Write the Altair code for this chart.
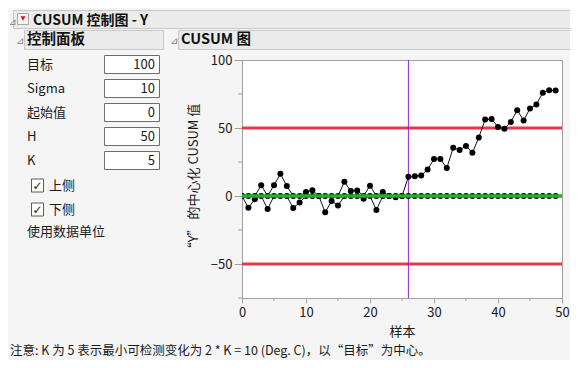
import altair as alt
import pandas as pd

# ---------------- data ----------------
samples = list(range(0, 50))
upper = [0, 0, 0, 7.9, 0, 7.9, 16.3, 7.4, 0, 0,
         3.0, 4.2, 0, 0, 0, 0, 10.5, 3.6, 4.0, 0,
         7.6, 0, 3.0, 0, 0, 0, 14.1, 14.6, 15.1, 19.5,
         27.2, 27.2, 20.5, 35.5, 33.8, 36.8, 31.8, 43.0, 56.3, 56.6,
         50.7, 49.5, 54.5, 63.1, 55.6, 64.3, 67.3, 76.0, 77.7, 77.6]
lower = [0, -8.7, -2.4, 0, -9.6, 0, 0, 0, -8.9, -4.7,
         0, 0, 0, -12.0, -3.7, -7.0, 0, 0, 0, -2.0,
         0, -10.3, 0, 0, -1.0, 0, 0, 0, 0, 0,
         0, 0, 0, 0, 0, 0, 0, 0, 0, 0,
         0, 0, 0, 0, 0, 0, 0, 0, 0, 0]
h_limits = [50, -50]
center_line = [0]
shift_marker = [26]

x_major = [0, 10, 20, 30, 40, 50]
x_minor = [5, 15, 25, 35, 45]
y_major = [-50, 0, 50, 100]
y_minor = [-75, -25, 25, 75]

param_labels = ["目标", "Sigma", "起始值", "H", "K"]
param_values = ["100", "10", "0", "50", "5"]
check_labels = ["上侧", "下侧"]

title_main = "CUSUM 控制图 - Y"
panel_title = "控制面板"
chart_title = "CUSUM 图"
data_units = "使用数据单位"
y_title = "“Y” 的中心化 CUSUM 值"
x_title = "样本"
note = "注意: K 为 5 表示最小可检测变化为 2 * K = 10 (Deg. C)，以“目标”为中心。"

# ---------------- layout helpers ----------------
FONT = "Noto Sans CJK SC"
OX, OY = 242, 60  # page position of the plot origin
W, H = 320, 238
PAGE_R = 570
PAGE_B = 360


def txt(s, x, y, size=13, weight="normal", align="left", color="#1a1a1a", font=FONT):
    return alt.Chart(pd.DataFrame({"t": [s]})).mark_text(
        align=align, baseline="middle", fontSize=size, fontWeight=weight,
        color=color, font=font
    ).encode(x=alt.value(x - OX), y=alt.value(y - OY), text="t:N")


def box(x1, y1, x2, y2, fill, stroke, sw=1):
    return alt.Chart(pd.DataFrame({"a": [0]})).mark_rect(
        fill=fill, stroke=stroke, strokeWidth=sw
    ).encode(x=alt.value(x1 - OX), x2=alt.value(x2 - OX),
             y=alt.value(y1 - OY), y2=alt.value(y2 - OY))


layers = []
# outline headers
layers.append(box(13.5, 10.5, PAGE_R + 5, 28.5, "#EBEBEB", "#C8C8C8"))
layers.append(txt("⊿", 8.5, 21.5, size=9.5, color="#808080", font="DejaVu Sans"))
layers.append(box(17.5, 13.5, 28.5, 24.5, "#F4F4F4", "#A8A8A8"))
layers.append(alt.Chart(pd.DataFrame({"a": [0]})).mark_point(
    shape="triangle-down", filled=True, color="#D7102A", size=26, opacity=1
).encode(x=alt.value(23 - OX), y=alt.value(18.5 - OY)))
layers.append(txt(title_main, 33, 20.5, size=14, weight="bold", color="#111111"))

layers.append(box(24.5, 30.5, 163.5, 49.5, "#EBEBEB", "#C8C8C8"))
layers.append(txt("⊿", 16, 41, size=10, color="#808080", font="DejaVu Sans"))
layers.append(txt(panel_title, 27, 40, size=14.5, weight="bold", color="#111111"))

layers.append(box(178.5, 30.5, PAGE_R + 5, 49.5, "#EBEBEB", "#C8C8C8"))
layers.append(txt("⊿", 170, 41, size=10, color="#808080", font="DejaVu Sans"))
layers.append(txt(chart_title, 181, 40, size=14.5, weight="bold", color="#111111"))

# control panel
for i, (lab, val) in enumerate(zip(param_labels, param_values)):
    yc = 64.5 + 24 * i
    layers.append(txt(lab, 27, yc, size=13))
    layers.append(box(104.5, 55.5 + 24 * i, 159.5, 73.5 + 24 * i, "white", "#6E6E6E"))
    layers.append(txt(val, 155, yc + 0.5, size=13, align="right"))

for j, lab in enumerate(check_labels):
    yc = 185.5 + 24 * j
    layers.append(box(31.5, yc - 6.5, 43.5, yc + 6.5, "white", "#5A5A5A"))
    layers.append(txt("✓", 37.5, yc, size=12, align="center", color="#222222", font="DejaVu Sans"))
    layers.append(txt(lab, 49, yc, size=13))

layers.append(txt(data_units, 27, 232, size=13))
layers.append(txt(note, 10, 350.5, size=12.5))

# ---------------- plot ----------------
xscale = alt.Scale(domain=[0, 50], nice=False, zero=False)
yscale = alt.Scale(domain=[-75, 100], nice=False, zero=False)

df = pd.DataFrame({
    "sample": samples + samples,
    "value": upper + lower,
    "side": ["upper"] * len(samples) + ["lower"] * len(samples),
})

x_axis = alt.Axis(
    values=x_major, tickSize=5, grid=False, labelFlush=False,
    domainColor="#A0A0A0", tickColor="#A0A0A0",
    labelFont=FONT, labelFontSize=13, labelColor="#1a1a1a", labelPadding=3,
    title=x_title, titleFont=FONT, titleFontSize=13, titleFontWeight="normal",
    titleColor="#1a1a1a", titlePadding=6,
)
y_axis = alt.Axis(
    values=y_major, tickSize=8, grid=False, labelFlush=False,
    domainColor="#A0A0A0", tickColor="#A0A0A0",
    labelFont=FONT, labelFontSize=13, labelColor="#1a1a1a", labelPadding=2,
    title=y_title, titleFont=FONT, titleFontSize=13, titleFontWeight="normal",
    titleColor="#1a1a1a", titlePadding=10,
)

X = lambda f: alt.X(f, scale=xscale, axis=x_axis)
Y = lambda f: alt.Y(f, scale=yscale, axis=y_axis)

xminor = alt.Chart(pd.DataFrame({"v": x_minor})).mark_rule(
    color="#A0A0A0", strokeWidth=1
).encode(x=X("v:Q"), y=alt.value(H), y2=alt.value(H + 3))
yminor = alt.Chart(pd.DataFrame({"v": y_minor})).mark_rule(
    color="#A0A0A0", strokeWidth=1
).encode(y=Y("v:Q"), x=alt.value(-4), x2=alt.value(0))

red = alt.Chart(pd.DataFrame({"v": h_limits})).mark_rule(
    color="#E8364B", strokeWidth=3
).encode(y=Y("v:Q"))

purple = alt.Chart(pd.DataFrame({"v": shift_marker})).mark_rule(
    color="#9A1FD6", strokeWidth=1
).encode(x=X("v:Q"))

lines = alt.Chart(df).mark_line(color="#111111", strokeWidth=1, clip=True).encode(
    x=X("sample:Q"), y=Y("value:Q"), detail="side:N",
)
dots = alt.Chart(df).mark_circle(color="#000000", size=36, opacity=1, clip=True).encode(
    x=X("sample:Q"), y=Y("value:Q"),
)
green = alt.Chart(pd.DataFrame({"v": center_line})).mark_rule(
    color="#22B02E", strokeWidth=3.5
).encode(y=Y("v:Q"))

layers = layers + [xminor, yminor, red, purple, lines, dots, green]

chart = alt.layer(*layers).properties(
    width=W, height=H,
    autosize=alt.AutoSizeParams(type="none"),
    padding={"left": OX - 8, "top": OY - 8, "right": PAGE_R - 8 - (OX - 8) - W,
             "bottom": PAGE_B - OY - H},
    background="#F5F5F5",
).configure_view(stroke="#A0A0A0", strokeWidth=1, fill="white")

chart.save("out.html", embed_options={"renderer": "svg", "actions": False})
